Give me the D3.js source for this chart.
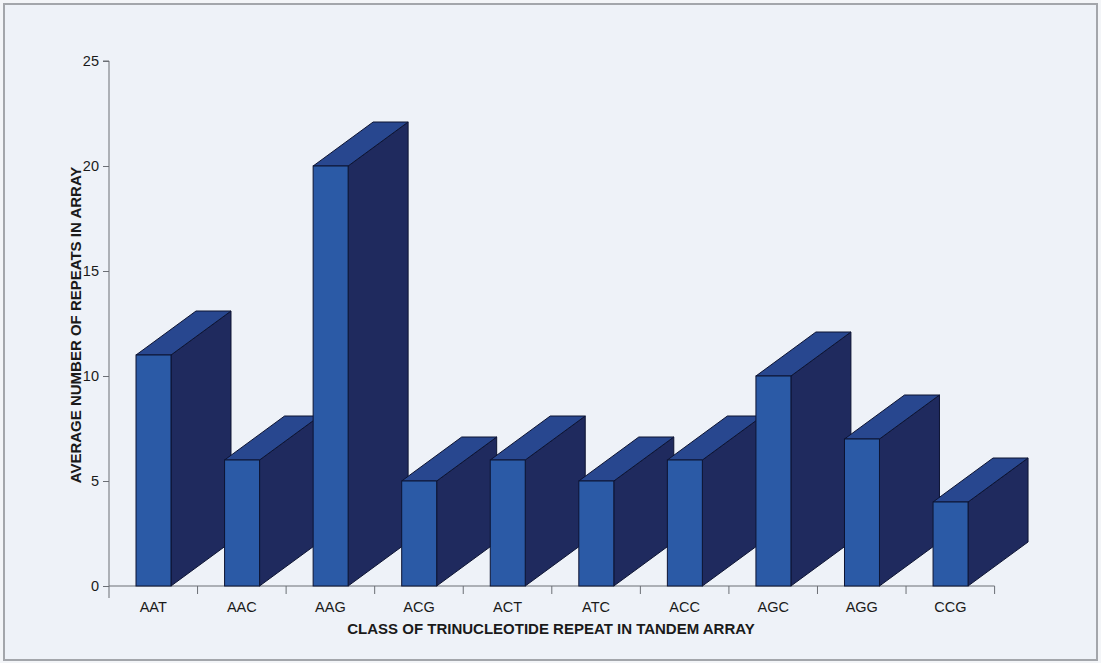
<!DOCTYPE html>
<html>
<head>
<meta charset="utf-8">
<script src="https://cdn.jsdelivr.net/npm/d3@7/dist/d3.min.js"></script>
<style>
  html, body { margin: 0; padding: 0; background: #ffffff; }
  svg { display: block; }
  text { font-family: Arial, "Liberation Sans", sans-serif; fill: #1a1a1a; }
</style>
</head>
<body>
<svg id="chart" width="1101" height="663"></svg>
<script>
// Trinucleotide repeat classes and their average array length
const categories = ["AAT", "AAC", "AAG", "ACG", "ACT", "ATC", "ACC", "AGC", "AGG", "CCG"];
const averageRepeats = [11, 6, 20, 5, 6, 5, 6, 10, 7, 4];
const yTicks = [0, 5, 10, 15, 20, 25];

const xTitle = "CLASS OF TRINUCLEOTIDE REPEAT IN TANDEM ARRAY";
const yTitle = "AVERAGE NUMBER OF REPEATS IN ARRAY";

const svg = d3.select("#chart");
const W = 1101, H = 663;

// panel background and frame
svg.append("rect").attr("x", 0).attr("y", 0).attr("width", W).attr("height", H).attr("fill", "#f3f5f8");
svg.append("rect").attr("x", 4).attr("y", 4).attr("width", W - 8).attr("height", H - 7)
  .attr("fill", "#eef2f8").attr("stroke", "#a3a6ab").attr("stroke-width", 2);

const plot = { left: 109, right: 994.6, top: 61, bottom: 586 };

const x = d3.scaleBand().domain(categories).range([plot.left, plot.right]).paddingInner(0).paddingOuter(0);
const y = d3.scaleLinear().domain([0, 25]).range([plot.bottom, plot.top]);

// 3D extrusion offsets
const depthX = 60, depthY = 44;
const faceStart = 0.305, faceWidth = 0.395;

const colors = { front: "#2b5aa6", side: "#1f2a5e", top: "#28478f", edge: "#0d1433" };

// axes
const yAxis = d3.axisLeft(y).tickValues(yTicks).tickSize(6).tickPadding(4);
const gy = svg.append("g").attr("transform", `translate(${plot.left},0)`).call(yAxis);
gy.select(".domain").attr("stroke", "#6b6f75").attr("d", `M-6,${plot.top}H0V${plot.bottom + 12}`);
gy.selectAll(".tick line").attr("stroke", "#6b6f75");
gy.selectAll(".tick text").attr("font-size", 14.5).attr("fill", "#222")
  .attr("font-family", "Arial, 'Liberation Sans', sans-serif");

const gx = svg.append("g").attr("transform", `translate(0,${plot.bottom})`);
gx.append("line").attr("x1", plot.left).attr("x2", plot.right).attr("y1", 0).attr("y2", 0).attr("stroke", "#6b6f75");
gx.selectAll("line.tk").data(categories).enter().append("line").attr("class", "tk")
  .attr("x1", d => x(d) + x.bandwidth()).attr("x2", d => x(d) + x.bandwidth())
  .attr("y1", 0).attr("y2", 8).attr("stroke", "#6b6f75");
gx.selectAll("text").data(categories).enter().append("text")
  .attr("x", d => x(d) + x.bandwidth() * 0.5)
  .attr("y", 26).attr("text-anchor", "middle").attr("font-size", 14.5).attr("fill", "#222")
  .text(d => d);

// bars drawn left to right so later boxes overlap earlier side faces
const bars = svg.append("g");
categories.forEach((c, i) => {
  const v = averageRepeats[i];
  const x0 = x(c) + x.bandwidth() * faceStart;
  const x1 = x0 + x.bandwidth() * faceWidth;
  const yTop = y(v), yBase = y(0);
  const g = bars.append("g");
  // side face
  g.append("path")
    .attr("d", `M${x1},${yBase}L${x1 + depthX},${yBase - depthY}L${x1 + depthX},${yTop - depthY}L${x1},${yTop}Z`)
    .attr("fill", colors.side).attr("stroke", colors.edge).attr("stroke-width", 1).attr("stroke-linejoin", "round");
  // top face
  g.append("path")
    .attr("d", `M${x0},${yTop}L${x0 + depthX},${yTop - depthY}L${x1 + depthX},${yTop - depthY}L${x1},${yTop}Z`)
    .attr("fill", colors.top).attr("stroke", colors.edge).attr("stroke-width", 1).attr("stroke-linejoin", "round");
  // front face
  g.append("rect")
    .attr("x", x0).attr("y", yTop).attr("width", x1 - x0).attr("height", yBase - yTop)
    .attr("fill", colors.front).attr("stroke", colors.edge).attr("stroke-width", 1);
});

// axis titles
svg.append("text").attr("x", 551).attr("y", 634)
  .attr("text-anchor", "middle").attr("font-size", 15).attr("font-weight", "bold").text(xTitle);
svg.append("text").attr("transform", `translate(81,325) rotate(-90)`)
  .attr("text-anchor", "middle").attr("font-size", 15).attr("font-weight", "bold").text(yTitle);
</script>
</body>
</html>
